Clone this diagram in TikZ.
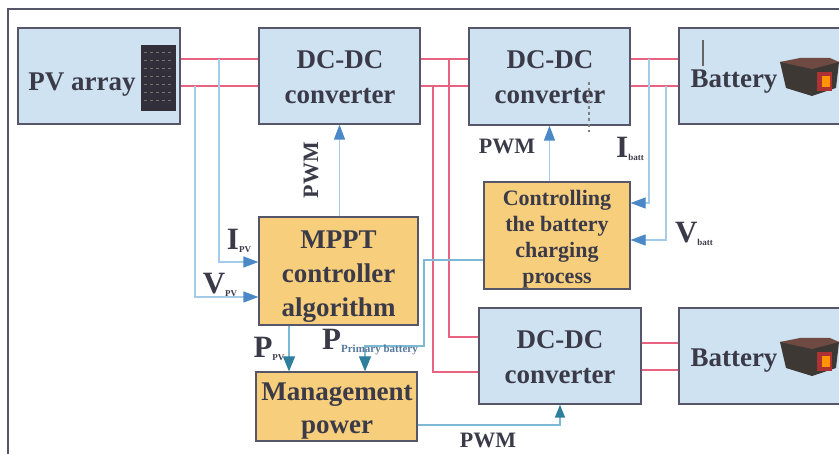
\documentclass[tikz,border=0pt]{standalone}
\usepackage{fontspec}
\setmainfont{Liberation Serif}
\usetikzlibrary{arrows.meta,positioning,calc}
\definecolor{boxblue}{HTML}{CFE2F1}
\definecolor{boxorange}{HTML}{F6CE7C}
\definecolor{boxedge}{HTML}{55566A}
\definecolor{inkdark}{HTML}{3B3A48}
\definecolor{redline}{HTML}{E8637F}
\definecolor{sigline}{HTML}{A4CBE8}
\definecolor{sighead}{HTML}{4A88C8}
\definecolor{tealline}{HTML}{7DB8D4}
\definecolor{tealhead}{HTML}{2F7F9C}
\definecolor{subblue}{HTML}{56789A}
\definecolor{panelink}{HTML}{322E3A}
\definecolor{battbody}{HTML}{3E3835}
\definecolor{batttop}{HTML}{6E4A42}
\newcommand{\sublabel}[2]{#1{\fontsize{9}{9}\selectfont\raisebox{-3pt}{#2}}}

\begin{document}
\begin{tikzpicture}[
    x=1pt,y=-1pt,
    conv/.style={draw=boxedge,fill=boxblue,line width=1.2pt},
    ctrl/.style={draw=boxedge,fill=boxorange,line width=1.2pt},
    txt/.style={text=inkdark,align=center,inner sep=0pt,font=\bfseries\fontsize{27}{35}\selectfont},
    lbl/.style={text=inkdark,inner sep=0pt,font=\bfseries\fontsize{22}{24}\selectfont},
    biglbl/.style={text=inkdark,inner sep=0pt,font=\bfseries\fontsize{31}{33}\selectfont},
    pwr/.style={draw=redline,line width=1.5pt},
    sig/.style={draw=sigline,line width=1.2pt,-{Triangle[length=15pt,width=11pt,color=sighead]}},
    sigt/.style={draw=tealline,line width=1.2pt,-{Triangle[length=15pt,width=12pt,color=tealhead]}},
    ]
    \useasboundingbox (0,0) rectangle (839,454);

    %frame
    \coordinate (fa) at (8,454);
    \coordinate (fb) at (8,9);
    \coordinate (fc) at (839,9);
    \draw[boxedge,line width=1.2pt] (fa) -- (fb) -- (fc);

    %boxes
    \node[conv,minimum width=162pt,minimum height=96pt] (pv) at (99,76) {};
    \node[conv,minimum width=161pt,minimum height=96pt] (dca) at (339.5,76) {};
    \node[conv,minimum width=161pt,minimum height=97pt] (dcb) at (549.5,76.5) {};
    \node[conv,minimum width=164pt,minimum height=96pt] (bata) at (761,76) {};
    \node[conv,minimum width=162pt,minimum height=96pt] (dcc) at (560,356) {};
    \node[conv,minimum width=164pt,minimum height=96pt] (batb) at (761,356) {};
    \node[ctrl,minimum width=159pt,minimum height=108pt] (mppt) at (338.5,271) {};
    \node[ctrl,minimum width=146pt,minimum height=107pt] (chg) at (557,235.5) {};
    \node[ctrl,minimum width=161pt,minimum height=69pt] (mgt) at (336.5,406.5) {};

    %pictures
    \fill[panelink] (141,45) rectangle (176,111);
    \foreach \yy in {52,60,...,106}
        \draw[black!55,dashed,line width=0.8pt] (144,\yy) -- (173,\yy);
    \foreach \xx/\yy in {780/57,780/337}{
        \fill[battbody] (\xx,\yy+5) -- (\xx+6,\yy+31) -- (\xx+32,\yy+39) -- (\xx+56,\yy+31)
            -- (\xx+59,\yy+5) -- cycle;
        \fill[batttop] (\xx,\yy+5) -- (\xx+20,\yy+1) -- (\xx+50,\yy+1) -- (\xx+59,\yy+5)
            -- (\xx+32,\yy+12) -- cycle;
        \fill[red!60!black!80] (\xx+37,\yy+15) rectangle (\xx+52,\yy+34);
        \fill[orange!85!yellow] (\xx+42,\yy+19) rectangle (\xx+50,\yy+30);
    }

    %box texts
    \node[txt] (pvtxt) at (82,85) {PV array};
    \node[txt] (battxta) at (734,82) {Battery};
    \node[txt] (battxtb) at (734,361) {Battery};
    \node[txt] (dcatxt) at (340,77) {DC-DC\\converter};
    \node[txt] (dcbtxt) at (550,77) {DC-DC\\converter};
    \node[txt] (dcctxt) at (560,357) {DC-DC\\converter};
    \node[txt,font=\bfseries\fontsize{27}{34}\selectfont] (mpptxt) at (338.5,277) {MPPT\\controller\\algorithm};
    \node[txt,font=\bfseries\fontsize{22}{26}\selectfont] (chgtxt) at (557,239) {Controlling\\the battery\\charging\\process};
    \node[txt,font=\bfseries\fontsize{27}{33}\selectfont] (mgttxt) at (337,411) {Management\\power};

    %power lines
    \coordinate (hi) at (0,59);
    \coordinate (lo) at (0,86);
    \coordinate (bhi) at (0,343);
    \coordinate (blo) at (0,370);
    \coordinate (ina) at (0,337);
    \coordinate (inb) at (0,372);
    \coordinate (xa) at (449,0);
    \coordinate (xb) at (433,0);
    \draw[pwr] (pv.east |- hi) -- (dca.west |- hi);
    \draw[pwr] (pv.east |- lo) -- (dca.west |- lo);
    \draw[pwr] (dca.east |- hi) -- (dcb.west |- hi);
    \draw[pwr] (dca.east |- lo) -- (dcb.west |- lo);
    \draw[pwr] (dcb.east |- hi) -- (bata.west |- hi);
    \draw[pwr] (dcb.east |- lo) -- (bata.west |- lo);
    \draw[pwr] (dcc.east |- bhi) -- (batb.west |- bhi);
    \draw[pwr] (dcc.east |- blo) -- (batb.west |- blo);
    \draw[pwr] (xa |- hi) -- (xa |- ina) -- (dcc.west |- ina);
    \draw[pwr] (xb |- lo) -- (xb |- inb) -- (dcc.west |- inb);

    %signal lines
    \coordinate (ipv) at (219,262);
    \coordinate (vpv) at (195,297);
    \coordinate (ibt) at (649,203);
    \coordinate (vbt) at (666,240);
    \coordinate (knee) at (424,260);
    \coordinate (kneeb) at (424,346);
    \coordinate (pri) at (365,346);
    \coordinate (ppv) at (289,0);
    \coordinate (pwmc) at (560,425);
    \draw[sig] (ipv |- hi) -- (ipv) -- (mppt.west |- ipv);
    \draw[sig] (vpv |- lo) -- (vpv) -- (mppt.west |- vpv);
    \draw[sig] (ibt |- hi) -- (ibt) -- (chg.east |- ibt);
    \draw[sig] (vbt |- lo) -- (vbt) -- (chg.east |- vbt);
    \draw[sig] (dca.south |- mppt.north) -- (dca.south);
    \draw[sig] (dcb.south |- chg.north) -- (dcb.south);
    \draw[sigt] (chg.west |- knee) -- (knee) -- (kneeb) -- (pri) -- (pri |- mgt.north);
    \draw[sigt] (ppv |- mppt.south) -- (ppv |- mgt.north);
    \draw[sigt,-{Triangle[length=13pt,width=10pt,color=tealhead]}] (mgt.east |- pwmc) -- (pwmc) -- (pwmc |- dcc.south);

    %scan marks
    \coordinate (mka) at (703,40);
    \coordinate (mkb) at (703,66);
    \coordinate (mkc) at (589,82);
    \coordinate (mkd) at (589,132);
    \draw[black!60,line width=1.5pt] (mka) -- (mkb);
    \draw[black!50,line width=1.5pt,dashed] (mkc) -- (mkd);

    %labels
    \node[lbl,rotate=90] (pwma) at (311,170) {PWM};
    \node[lbl] (pwmb) at (507,146) {PWM};
    \node[lbl] (pwmd) at (488,440) {PWM};
    \node[biglbl] (lipv) at (239,241) {\sublabel{I}{PV}};
    \node[biglbl] (lvpv) at (220,285) {\sublabel{V}{PV}};
    \node[biglbl] (lppv) at (269,349) {\sublabel{P}{PV}};
    \node[biglbl] (lpri) at (370,342) {P{\fontsize{11}{11}\selectfont\color{subblue}\raisebox{-3pt}{Primary battery}}};
    \node[biglbl] (libt) at (630,149) {\sublabel{I}{batt}};
    \node[biglbl] (lvbt) at (694,234) {\sublabel{V}{batt}};

\end{tikzpicture}
\end{document}
